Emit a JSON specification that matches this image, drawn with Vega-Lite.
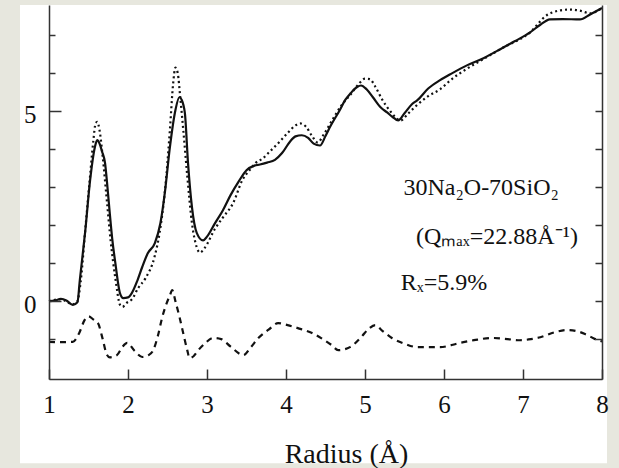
{
  "$schema": "https://vega.github.io/schema/vega-lite/v6.json",
  "width": 553,
  "height": 374,
  "autosize": "none",
  "padding": {"left": 49, "top": 5, "right": 17, "bottom": 89},
  "background": "#e7e7de",
  "config": {
    "view": {"stroke": null},
    "font": "Liberation Serif",
    "axis": {
      "grid": false,
      "domainColor": "#333",
      "domainWidth": 1.5,
      "tickColor": "#333",
      "tickWidth": 1.5,
      "labelFont": "Liberation Serif",
      "labelFontSize": 25,
      "labelColor": "#111",
      "titleFont": "Liberation Serif",
      "titleFontSize": 28,
      "titleFontWeight": "normal",
      "titleColor": "#111"
    }
  },
  "datasets": {
    "solid": [
      {"r": 1.00, "g": 0.00}, {"r": 1.08, "g": 0.02}, {"r": 1.15, "g": 0.06}, {"r": 1.22, "g": 0.02},
      {"r": 1.30, "g": -0.10}, {"r": 1.36, "g": -0.03}, {"r": 1.39, "g": 0.55}, {"r": 1.46, "g": 1.87},
      {"r": 1.52, "g": 3.18}, {"r": 1.58, "g": 4.05}, {"r": 1.61, "g": 4.24}, {"r": 1.64, "g": 4.15},
      {"r": 1.67, "g": 3.95}, {"r": 1.71, "g": 3.63}, {"r": 1.74, "g": 3.0}, {"r": 1.77, "g": 2.3},
      {"r": 1.80, "g": 1.65}, {"r": 1.84, "g": 1.0}, {"r": 1.90, "g": 0.2}, {"r": 1.94, "g": 0.08},
      {"r": 2.00, "g": 0.1}, {"r": 2.05, "g": 0.22}, {"r": 2.12, "g": 0.55}, {"r": 2.18, "g": 0.9},
      {"r": 2.25, "g": 1.26}, {"r": 2.34, "g": 1.53}, {"r": 2.41, "g": 2.05}, {"r": 2.47, "g": 2.92},
      {"r": 2.53, "g": 4.05}, {"r": 2.60, "g": 5.03}, {"r": 2.65, "g": 5.37}, {"r": 2.68, "g": 5.3},
      {"r": 2.72, "g": 4.95}, {"r": 2.76, "g": 3.63}, {"r": 2.81, "g": 2.47}, {"r": 2.87, "g": 1.8},
      {"r": 2.95, "g": 1.6}, {"r": 3.00, "g": 1.7}, {"r": 3.10, "g": 2.05}, {"r": 3.20, "g": 2.39},
      {"r": 3.30, "g": 2.8}, {"r": 3.40, "g": 3.15}, {"r": 3.50, "g": 3.45}, {"r": 3.60, "g": 3.57},
      {"r": 3.67, "g": 3.6}, {"r": 3.76, "g": 3.65}, {"r": 3.86, "g": 3.72}, {"r": 3.95, "g": 3.9},
      {"r": 4.05, "g": 4.2}, {"r": 4.12, "g": 4.34}, {"r": 4.20, "g": 4.37}, {"r": 4.28, "g": 4.3},
      {"r": 4.35, "g": 4.15}, {"r": 4.43, "g": 4.1}, {"r": 4.50, "g": 4.35}, {"r": 4.56, "g": 4.6},
      {"r": 4.68, "g": 5.03}, {"r": 4.75, "g": 5.3}, {"r": 4.82, "g": 5.48}, {"r": 4.90, "g": 5.64},
      {"r": 4.95, "g": 5.68}, {"r": 5.02, "g": 5.58}, {"r": 5.10, "g": 5.37}, {"r": 5.20, "g": 5.1},
      {"r": 5.28, "g": 4.97}, {"r": 5.35, "g": 4.85}, {"r": 5.42, "g": 4.76}, {"r": 5.50, "g": 4.95},
      {"r": 5.60, "g": 5.2}, {"r": 5.66, "g": 5.29}, {"r": 5.80, "g": 5.6}, {"r": 5.95, "g": 5.82},
      {"r": 6.10, "g": 6.0}, {"r": 6.29, "g": 6.21}, {"r": 6.50, "g": 6.4}, {"r": 6.75, "g": 6.68},
      {"r": 6.90, "g": 6.85}, {"r": 7.09, "g": 7.08}, {"r": 7.22, "g": 7.28}, {"r": 7.34, "g": 7.42},
      {"r": 7.50, "g": 7.43}, {"r": 7.72, "g": 7.42}, {"r": 7.85, "g": 7.55}, {"r": 8.00, "g": 7.72}
    ],
    "dotted": [
      {"r": 1.00, "g": 0.0}, {"r": 1.15, "g": 0.05}, {"r": 1.30, "g": -0.08}, {"r": 1.36, "g": 0.0},
      {"r": 1.40, "g": 0.5}, {"r": 1.46, "g": 1.9}, {"r": 1.52, "g": 3.3}, {"r": 1.56, "g": 4.2},
      {"r": 1.59, "g": 4.68}, {"r": 1.61, "g": 4.72}, {"r": 1.64, "g": 4.5}, {"r": 1.68, "g": 3.8},
      {"r": 1.73, "g": 2.7}, {"r": 1.78, "g": 1.6}, {"r": 1.84, "g": 0.6}, {"r": 1.90, "g": -0.1},
      {"r": 1.93, "g": -0.15}, {"r": 1.98, "g": -0.05}, {"r": 2.05, "g": 0.05}, {"r": 2.13, "g": 0.35},
      {"r": 2.22, "g": 0.6}, {"r": 2.34, "g": 1.2}, {"r": 2.40, "g": 1.8}, {"r": 2.47, "g": 2.95},
      {"r": 2.53, "g": 4.5}, {"r": 2.57, "g": 5.7}, {"r": 2.60, "g": 6.15}, {"r": 2.63, "g": 6.0},
      {"r": 2.66, "g": 5.4}, {"r": 2.70, "g": 4.5}, {"r": 2.75, "g": 3.3}, {"r": 2.81, "g": 2.05},
      {"r": 2.87, "g": 1.42}, {"r": 2.91, "g": 1.28}, {"r": 2.97, "g": 1.4}, {"r": 3.10, "g": 1.9},
      {"r": 3.20, "g": 2.2}, {"r": 3.33, "g": 2.58}, {"r": 3.45, "g": 3.2}, {"r": 3.54, "g": 3.45},
      {"r": 3.62, "g": 3.65}, {"r": 3.70, "g": 3.75}, {"r": 3.80, "g": 3.95}, {"r": 3.92, "g": 4.2},
      {"r": 4.03, "g": 4.45}, {"r": 4.12, "g": 4.63}, {"r": 4.18, "g": 4.68}, {"r": 4.25, "g": 4.6},
      {"r": 4.33, "g": 4.35}, {"r": 4.40, "g": 4.18}, {"r": 4.48, "g": 4.4}, {"r": 4.58, "g": 4.75},
      {"r": 4.70, "g": 5.15}, {"r": 4.82, "g": 5.45}, {"r": 4.92, "g": 5.72}, {"r": 5.00, "g": 5.86},
      {"r": 5.06, "g": 5.85}, {"r": 5.13, "g": 5.65}, {"r": 5.22, "g": 5.3}, {"r": 5.32, "g": 5.0},
      {"r": 5.45, "g": 4.76}, {"r": 5.55, "g": 4.95}, {"r": 5.65, "g": 5.15}, {"r": 5.80, "g": 5.4},
      {"r": 5.95, "g": 5.58}, {"r": 6.10, "g": 5.85}, {"r": 6.29, "g": 6.12}, {"r": 6.50, "g": 6.38},
      {"r": 6.75, "g": 6.68}, {"r": 7.09, "g": 7.08}, {"r": 7.30, "g": 7.53}, {"r": 7.45, "g": 7.65},
      {"r": 7.59, "g": 7.68}, {"r": 7.72, "g": 7.65}, {"r": 7.85, "g": 7.58}, {"r": 8.00, "g": 7.72}
    ],
    "diff": [
      {"r": 1.00, "g": -1.07}, {"r": 1.15, "g": -1.08}, {"r": 1.30, "g": -1.07}, {"r": 1.38, "g": -0.85},
      {"r": 1.45, "g": -0.5}, {"r": 1.50, "g": -0.4}, {"r": 1.56, "g": -0.48}, {"r": 1.62, "g": -0.58},
      {"r": 1.68, "g": -1.0}, {"r": 1.73, "g": -1.4}, {"r": 1.77, "g": -1.48}, {"r": 1.86, "g": -1.42},
      {"r": 1.93, "g": -1.2}, {"r": 1.99, "g": -1.1}, {"r": 2.08, "g": -1.3}, {"r": 2.18, "g": -1.47},
      {"r": 2.26, "g": -1.42}, {"r": 2.32, "g": -1.29}, {"r": 2.38, "g": -0.9}, {"r": 2.43, "g": -0.45},
      {"r": 2.49, "g": -0.05}, {"r": 2.53, "g": 0.15}, {"r": 2.56, "g": 0.29}, {"r": 2.60, "g": 0.0},
      {"r": 2.65, "g": -0.4}, {"r": 2.70, "g": -0.85}, {"r": 2.75, "g": -1.29}, {"r": 2.78, "g": -1.5},
      {"r": 2.83, "g": -1.45}, {"r": 2.89, "g": -1.29}, {"r": 2.98, "g": -1.1}, {"r": 3.08, "g": -0.97},
      {"r": 3.18, "g": -1.0}, {"r": 3.30, "g": -1.2}, {"r": 3.46, "g": -1.42}, {"r": 3.56, "g": -1.2},
      {"r": 3.65, "g": -0.97}, {"r": 3.78, "g": -0.75}, {"r": 3.90, "g": -0.58}, {"r": 4.02, "g": -0.63},
      {"r": 4.15, "g": -0.71}, {"r": 4.33, "g": -0.84}, {"r": 4.45, "g": -0.98}, {"r": 4.58, "g": -1.16},
      {"r": 4.66, "g": -1.29}, {"r": 4.81, "g": -1.21}, {"r": 4.95, "g": -0.95}, {"r": 5.05, "g": -0.72},
      {"r": 5.13, "g": -0.63}, {"r": 5.22, "g": -0.78}, {"r": 5.34, "g": -0.97}, {"r": 5.50, "g": -1.12},
      {"r": 5.66, "g": -1.21}, {"r": 5.95, "g": -1.21}, {"r": 6.20, "g": -1.1}, {"r": 6.40, "g": -1.02},
      {"r": 6.62, "g": -0.97}, {"r": 6.80, "g": -1.0}, {"r": 6.96, "g": -1.03}, {"r": 7.10, "g": -1.0},
      {"r": 7.22, "g": -0.95}, {"r": 7.40, "g": -0.82}, {"r": 7.56, "g": -0.76}, {"r": 7.70, "g": -0.8},
      {"r": 7.80, "g": -0.88}, {"r": 7.95, "g": -1.03}, {"r": 8.00, "g": -1.06}
    ],
    "notes": [
      {"r": 6.47, "g": 2.97, "label": "30Na₂O-70SiO₂"},
      {"r": 6.67, "g": 1.68, "label": "(Qₘₐₓ=22.88Å⁻¹)"},
      {"r": 6.0, "g": 0.47, "label": "Rₓ=5.9%"}
    ]
  },
  "layer": [
    {
      "data": {"values": [{}]},
      "mark": {"type": "rect", "fill": "white"},
      "encoding": {
        "x": {"datum": 0.633, "type": "quantitative", "scale": {"domain": [1, 8]}, "axis": null},
        "x2": {"datum": 8.063},
        "y": {"datum": 7.8, "type": "quantitative", "scale": {"domain": [-2.05, 7.8]}, "axis": null},
        "y2": {"datum": -4.27}
      }
    },
    {
      "data": {"name": "solid"},
      "mark": {"type": "line", "color": "#111", "strokeWidth": 2.2, "interpolate": "monotone"},
      "encoding": {
        "x": {
          "field": "r", "type": "quantitative", "scale": {"domain": [1, 8]},
          "axis": {
            "zindex": 1,
            "orient": "bottom",
            "title": "Radius (Å)",
            "titleFont": "Liberation Serif",
            "titleFontSize": 28,
            "titleFontWeight": "normal",
            "titleColor": "#111",
            "titleBaseline": "alphabetic",
            "titleX": 297,
            "titleY": 83,
            "format": "d",
            "values": [1, 1.5, 2, 2.5, 3, 3.5, 4, 4.5, 5, 5.5, 6, 6.5, 7, 7.5, 8],
            "labelExpr": "datum.value % 1 === 0 ? datum.label : ''",
            "tickSize": {"condition": {"test": "datum.value % 1 === 0", "value": -10}, "value": -5},
            "labelPadding": 23,
            "labelFlush": false,
            "labelOverlap": false
          }
        },
        "y": {
          "field": "g", "type": "quantitative", "scale": {"domain": [-2.05, 7.8]},
          "axis": {
            "zindex": 1,
            "title": null,
            "values": [-1, 0, 1, 2, 3, 4, 5, 6, 7],
            "labelExpr": "datum.value === 0 || datum.value === 5 ? datum.label : ''",
            "tickSize": {"condition": {"test": "datum.value === 0 || datum.value === 5", "value": -12}, "value": -6},
            "labelPadding": 25,
            "labelOffset": 3,
            "labelOverlap": false,
            "labelFlush": false
          }
        }
      }
    },
    {
      "data": {"name": "dotted"},
      "mark": {"type": "line", "color": "#111", "strokeWidth": 2.2, "strokeDash": [2, 3], "interpolate": "monotone"},
      "encoding": {
        "x": {"field": "r", "type": "quantitative", "scale": {"domain": [1, 8]}, "axis": null},
        "y": {
          "field": "g", "type": "quantitative", "scale": {"domain": [-2.05, 7.8]},
          "axis": {
            "zindex": 1,
            "orient": "right", "title": null, "labels": false,
            "values": [-1, 0, 1, 2, 3, 4, 5, 6, 7],
            "tickSize": -7
          }
        }
      }
    },
    {
      "data": {"name": "diff"},
      "mark": {"type": "line", "color": "#111", "strokeWidth": 2.2, "strokeDash": [6, 5], "interpolate": "monotone"},
      "encoding": {
        "x": {"field": "r", "type": "quantitative", "scale": {"domain": [1, 8]}, "axis": null},
        "y": {"field": "g", "type": "quantitative", "scale": {"domain": [-2.05, 7.8]}, "axis": null}
      }
    },
    {
      "data": {"name": "notes"},
      "mark": {"type": "text", "font": "Liberation Serif", "fontSize": 24, "color": "#111", "align": "center", "baseline": "middle"},
      "encoding": {
        "x": {"field": "r", "type": "quantitative", "scale": {"domain": [1, 8]}, "axis": null},
        "y": {"field": "g", "type": "quantitative", "scale": {"domain": [-2.05, 7.8]}, "axis": null},
        "text": {"field": "label"}
      }
    }
  ],
  "resolve": {"axis": {"x": "independent", "y": "independent"}}
}
